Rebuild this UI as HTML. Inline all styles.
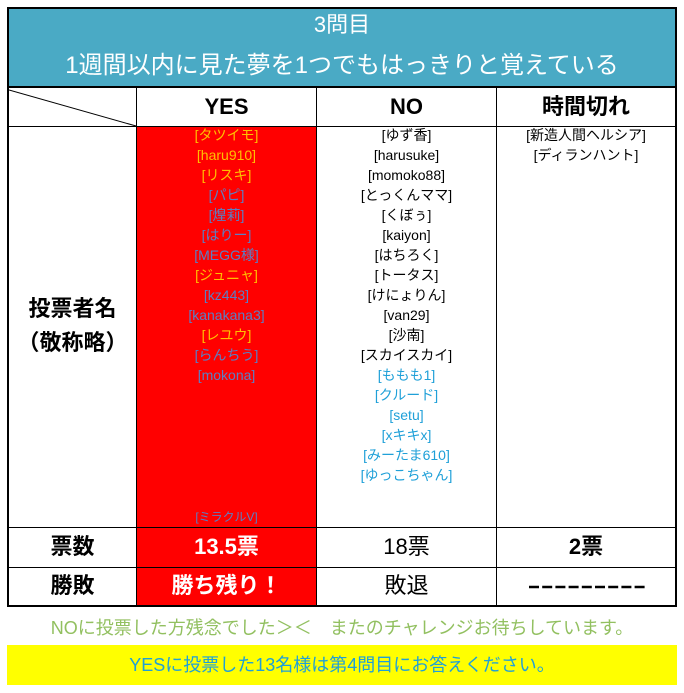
<!DOCTYPE html><html><head><meta charset="utf-8"><style>
body{margin:0;width:684px;height:693px;background:#fff;position:relative;overflow:hidden;font-family:"Liberation Sans","Noto Sans CJK JP",sans-serif}
.a{position:absolute}
.c{position:absolute;text-align:center;white-space:nowrap}
.n{font-size:14px;line-height:20px}
.y{color:#ffc000}.b{color:#5b7fc4}.k{color:#000}.s{color:#1fa0d8}
</style></head><body>
<div class="a" style="left:7px;top:7px;width:670px;height:600px;border:0;background:#000"></div>
<div class="a" style="left:9px;top:9px;width:666px;height:77px;background:#4aaac5"></div>
<div class="c" style="left:9px;width:666px;top:10px;font-size:22px;line-height:30px;color:#fff">3問目</div>
<div class="c" style="left:9px;width:666px;top:51px;font-size:24px;line-height:30px;color:#fff">1週間以内に見た夢を1つでもはっきりと覚えている</div>
<div class="a" style="left:9px;top:88px;width:666px;height:517px;background:#fff"></div>
<div class="a" style="left:137px;top:127px;width:179px;height:400px;background:#f00"></div>
<div class="a" style="left:137px;top:568px;width:179px;height:37px;background:#f00"></div>
<div class="a" style="left:137px;top:528px;width:179px;height:39px;background:#f00"></div>
<div class="a" style="left:9px;top:86px;width:666px;height:2px;background:#000"></div>
<div class="a" style="left:9px;top:126px;width:666px;height:1px;background:#000"></div>
<div class="a" style="left:9px;top:527px;width:666px;height:1px;background:#000"></div>
<div class="a" style="left:9px;top:567px;width:666px;height:1px;background:#000"></div>
<div class="a" style="left:136px;top:88px;width:1px;height:517px;background:#000"></div>
<div class="a" style="left:316px;top:88px;width:1px;height:517px;background:#000"></div>
<div class="a" style="left:496px;top:88px;width:1px;height:517px;background:#000"></div>
<svg class="a" style="left:9px;top:88px" width="128" height="38"><line x1="0" y1="2" x2="127" y2="38" stroke="#000" stroke-width="1"/></svg>
<div class="c" style="left:137px;width:179px;top:92px;font-size:22px;line-height:30px;font-weight:bold">YES</div>
<div class="c" style="left:317px;width:179px;top:92px;font-size:22px;line-height:30px;font-weight:bold">NO</div>
<div class="c" style="left:497px;width:178px;top:92px;font-size:22px;line-height:30px;font-weight:bold">時間切れ</div>
<div class="c" style="left:9px;width:127px;top:292px;font-size:22px;line-height:34px;font-weight:bold">投票者名<br>（敬称略）</div>
<div class="c n" style="left:137px;width:179px;top:125px">
<div class="y">[タツイモ]</div><div class="y">[haru910]</div><div class="y">[リスキ]</div><div class="b">[パピ]</div><div class="b">[煌莉]</div><div class="b">[はりー]</div><div class="b">[MEGG様]</div><div class="y">[ジュニャ]</div><div class="b">[kz443]</div><div class="b">[kanakana3]</div><div class="y">[レユウ]</div><div class="b">[らんちう]</div><div class="b">[mokona]</div></div>
<div class="c b" style="left:137px;width:179px;top:507px;font-size:12px;line-height:20px">[ミラクルV]</div>
<div class="c n" style="left:317px;width:179px;top:125px">
<div class="k">[ゆず香]</div><div class="k">[harusuke]</div><div class="k">[momoko88]</div><div class="k">[とっくんママ]</div><div class="k">[くぼぅ]</div><div class="k">[kaiyon]</div><div class="k">[はちろく]</div><div class="k">[トータス]</div><div class="k">[けにょりん]</div><div class="k">[van29]</div><div class="k">[沙南]</div><div class="k">[スカイスカイ]</div><div class="s">[ももも1]</div><div class="s">[クルード]</div><div class="s">[setu]</div><div class="s">[xキキx]</div><div class="s">[みーたま610]</div><div class="s">[ゆっこちゃん]</div></div>
<div class="c n" style="left:497px;width:178px;top:125px"><div>[新造人間ヘルシア]</div><div>[ディランハント]</div></div>
<div class="c" style="left:9px;width:127px;top:532px;font-size:22px;line-height:30px;font-weight:bold">票数</div>
<div class="c" style="left:137px;width:179px;top:532px;font-size:22px;line-height:30px;font-weight:bold;color:#fff">13.5票</div>
<div class="c" style="left:317px;width:179px;top:532px;font-size:22px;line-height:30px">18票</div>
<div class="c" style="left:497px;width:178px;top:532px;font-size:22px;line-height:30px;font-weight:bold">2票</div>
<div class="c" style="left:9px;width:127px;top:571px;font-size:22px;line-height:30px;font-weight:bold">勝敗</div>
<div class="c" style="left:137px;width:179px;top:571px;font-size:22px;line-height:30px;font-weight:bold;color:#fff">勝ち残り！</div>
<div class="c" style="left:317px;width:179px;top:571px;font-size:22px;line-height:30px">敗退</div>
<svg class="a" style="left:529px;top:585px" width="118" height="4"><line x1="0" y1="2" x2="118" y2="2" stroke="#000" stroke-width="2.5" stroke-dasharray="10,3.2"/></svg>
<div class="c" style="left:0;width:684px;top:615px;font-size:18px;line-height:26px;color:#92c060">NOに投票した方残念でした＞＜　またのチャレンジお待ちしています。</div>
<div class="a" style="left:7px;top:645px;width:670px;height:40px;background:#ffff00"></div>
<div class="c" style="left:7px;width:670px;top:652px;font-size:18px;line-height:26px;color:#1fa0d8">YESに投票した13名様は第4問目にお答えください。</div>
</body></html>
